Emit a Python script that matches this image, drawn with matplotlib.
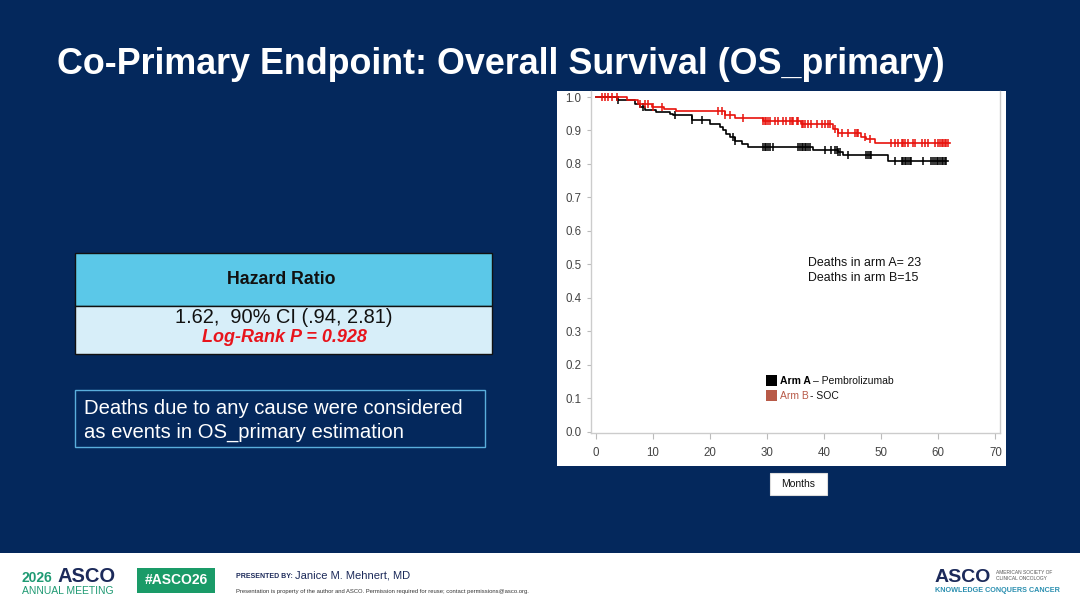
import numpy as np
import matplotlib.pyplot as plt
from matplotlib.patches import Rectangle

plt.rcParams['font.family'] = ['Liberation Sans', 'DejaVu Sans']

W, H = 1080, 608
navy = '#04285c'

# Kaplan-Meier curves (months, survival)
times_a = [0, 3.7, 6.9, 7.8, 8.6, 10.5, 13.0, 13.6, 16.8, 20.0, 21.8, 22.3, 22.8, 23.5, 24.4, 25.6, 26.7, 38.1, 42.5, 43.3, 51.2]
surv_a = [1.0, 0.99, 0.98, 0.97, 0.96, 0.955, 0.95, 0.945, 0.93, 0.92, 0.91, 0.90, 0.89, 0.88, 0.87, 0.86, 0.85, 0.843, 0.835, 0.826, 0.81]
end_a = 61.7
cens_a = [4.0, 8.3, 13.9, 16.8, 18.6, 24.1, 24.4, 29.3, 29.6, 29.9, 30.2, 30.5, 31.1,
          35.5, 35.8, 36.1, 36.3, 36.6, 36.9, 37.2, 37.5, 40.1, 41.3, 41.9, 42.2, 42.5, 42.8,
          44.2, 47.4, 47.7, 48.0, 48.3, 52.4, 53.6, 53.9, 54.1, 54.4, 54.7, 55.0, 55.3,
          57.4, 58.8, 59.1, 59.4, 59.7, 60.0, 60.3, 60.6, 60.9, 61.1, 61.4]

times_b = [0, 5.5, 7.5, 9.8, 12.0, 14.0, 22.6, 24.4, 29.3, 36.0, 41.6, 42.5, 46.5, 47.4, 48.9]
surv_b = [1.0, 0.99, 0.98, 0.97, 0.965, 0.958, 0.946, 0.936, 0.928, 0.918, 0.905, 0.892, 0.882, 0.874, 0.863]
end_b = 62.0
cens_b = [1.05, 1.6, 2.2, 2.8, 3.7, 7.8, 8.6, 9.2, 10.1, 11.6, 21.5, 22.1, 22.6, 23.5, 25.8,
          29.3, 29.6, 29.9, 30.2, 30.5, 31.4, 32.0, 32.8, 33.4, 34.0, 34.3, 34.6, 35.2, 35.5,
          36.1, 36.3, 36.6, 37.2, 37.8, 38.7, 39.6, 40.1, 40.7, 41.0, 41.9, 42.5, 43.1, 44.2,
          45.4, 45.7, 46.0, 47.1, 48.0, 51.8, 52.4, 53.0, 53.6, 53.9, 54.1, 54.7, 55.6, 55.9,
          57.1, 57.6, 58.2, 59.4, 60.0, 60.3, 60.6, 60.9, 61.1, 61.4, 61.7]

x_ticks = [0, 10, 20, 30, 40, 50, 60, 70]
y_ticks = [0.0, 0.1, 0.2, 0.3, 0.4, 0.5, 0.6, 0.7, 0.8, 0.9, 1.0]


def fx(x):
    return x / W


def fy(y):
    return 1 - y / H


def box(x0, y0, x1, y1, z=1, **kw):
    fig.patches.append(Rectangle((fx(x0), fy(y1)), fx(x1) - fx(x0), fy(y0) - fy(y1),
                                 transform=fig.transFigure, zorder=z, **kw))


fig = plt.figure(figsize=(W / 100, H / 100), dpi=100, facecolor=navy)

# title
fig.text(fx(57), fy(64), 'Co-Primary Endpoint: Overall Survival (OS_primary)', color='white',
         fontsize=25.8, fontweight='bold', va='center', ha='left')

# hazard ratio table
box(75, 253, 492, 306, facecolor='#5bc8e8', edgecolor='#111111', lw=1)
box(75, 306, 492, 354, facecolor='#d7eef9', edgecolor='#111111', lw=1)
fig.text(fx(281), fy(280), 'Hazard Ratio', fontsize=12.8, fontweight='bold', color='#111111',
         ha='center', va='center')
fig.text(fx(284), fy(317), '1.62,  90% CI (.94, 2.81)', fontsize=14.4, color='#111111',
         ha='center', va='center')
fig.text(fx(284), fy(338), 'Log-Rank P = 0.928', fontsize=13, color='#e8141c', fontweight='bold',
         fontstyle='italic', ha='center', va='center')

# note box
box(75, 390, 485, 447, facecolor=navy, edgecolor='#5aaedc', lw=1)
fig.text(fx(84), fy(408), 'Deaths due to any cause were considered', fontsize=14.6, color='white',
         ha='left', va='center')
fig.text(fx(84), fy(432), 'as events in OS_primary estimation', fontsize=14.6, color='white',
         ha='left', va='center')

# white panel behind the KM plot
box(557, 91, 1006, 466, z=-1, facecolor='white', edgecolor='none')

ax = fig.add_axes([fx(591), fy(433), fx(1000) - fx(591), fy(91) - fy(433)])
ax.set_facecolor('white')
ax.set_xlim(-0.8, 70.8)
ax.set_ylim(-0.004, 1.018)

for t, s, end, cens, col in [(times_a, surv_a, end_a, cens_a, 'black'),
                             (times_b, surv_b, end_b, cens_b, '#e8120c')]:
    ax.step(t + [end], s + [s[-1]], where='post', color=col, lw=1.2)
    idx = np.searchsorted(t, cens, side='right') - 1
    ax.plot(cens, np.asarray(s)[idx], ls='none', marker='|', ms=6, mew=1.1, color=col)

ax.set_xticks(x_ticks)
ax.set_xticklabels([str(v) for v in x_ticks])
ax.set_yticks(y_ticks)
ax.set_yticklabels([f'{v:.1f}' for v in y_ticks])
ax.tick_params(labelsize=8.3, colors='#bbbbbb', labelcolor='#444444', width=0.8)
ax.tick_params(axis='x', length=4, pad=6)
ax.tick_params(axis='y', length=3, pad=4)
for side in ['left', 'bottom', 'right']:
    ax.spines[side].set_color('#cccccc')
    ax.spines[side].set_linewidth(1)
ax.spines['top'].set_visible(False)

# annotations in the plot
fig.text(fx(808), fy(263), 'Deaths in arm A= 23', fontsize=8.9, color='#111111', ha='left', va='center')
fig.text(fx(808), fy(278), 'Deaths in arm B=15', fontsize=8.9, color='#111111', ha='left', va='center')
box(766, 375, 777, 386, facecolor='black', edgecolor='none')
box(766, 390, 777, 401, facecolor='#b85a48', edgecolor='none')
fig.text(fx(780), fy(381), 'Arm A', fontsize=7.5, fontweight='bold', color='black', ha='left', va='center')
fig.text(fx(813), fy(381), '\u2013 Pembrolizumab', fontsize=7.5, color='#111111', ha='left', va='center')
fig.text(fx(780), fy(396), 'Arm B', fontsize=7.5, color='#b85a48', ha='left', va='center')
fig.text(fx(810), fy(396), '- SOC', fontsize=7.5, color='#111111', ha='left', va='center')

# Months label box
box(770, 473, 827, 495, facecolor='white', edgecolor='#dddddd', lw=0.8)
fig.text(fx(798), fy(484), 'Months', fontsize=7.5, color='#111111', ha='center', va='center')

# footer
box(0, 553, 1080, 608, facecolor='white', edgecolor='none')
teal = '#1f9a73'
fig.text(fx(22), fy(578), '2026', fontsize=10, color=teal, fontweight='bold', ha='left', va='center')
fig.text(fx(57), fy(577), 'ASCO', fontsize=14.5, color='#1c2a5a', fontweight='bold', ha='left', va='center')
fig.text(fx(22), fy(591), 'ANNUAL MEETING', fontsize=7.5, color=teal, ha='left', va='center')
box(137, 568, 215, 593, facecolor='#1a9b68', edgecolor='none')
fig.text(fx(176), fy(580.5), '#ASCO26', fontsize=10, color='white', fontweight='bold', ha='center', va='center')
fig.text(fx(236), fy(576), 'PRESENTED BY:', fontsize=5, color='#1c2a5a', fontweight='bold', ha='left', va='center')
fig.text(fx(295), fy(575), 'Janice M. Mehnert, MD', fontsize=8, color='#1c2a5a', ha='left', va='center')
fig.text(fx(236), fy(591), 'Presentation is property of the author and ASCO. Permission required for reuse; '
         'contact permissions@asco.org.', fontsize=4.2, color='#333333', ha='left', va='center')
fig.text(fx(935), fy(577), 'ASCO', fontsize=14, color='#1c2a5a', fontweight='bold', ha='left', va='center')
fig.text(fx(996), fy(573), 'AMERICAN SOCIETY OF', fontsize=3.5, color='#555555', ha='left', va='center')
fig.text(fx(996), fy(579), 'CLINICAL ONCOLOGY', fontsize=3.5, color='#555555', ha='left', va='center')
fig.text(fx(935), fy(590), 'KNOWLEDGE CONQUERS CANCER', fontsize=5.2, color='#2a8fb0', fontweight='bold',
         ha='left', va='center')

fig.savefig('out.png', dpi=100, facecolor=navy)
